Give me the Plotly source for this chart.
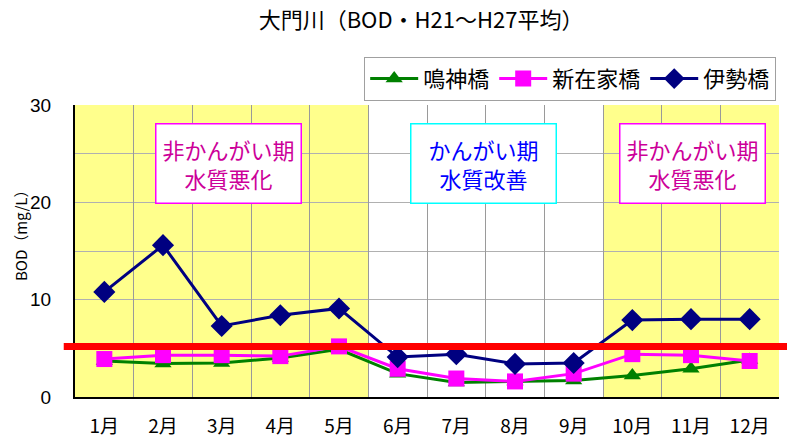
import plotly.graph_objects as go

months = ["1月", "2月", "3月", "4月", "5月", "6月", "7月", "8月", "9月", "10月", "11月", "12月"]
narukami = [3.7, 3.45, 3.5, 4.0, 4.9, 2.4, 1.5, 1.6, 1.7, 2.2, 2.9, 3.8]
shinzaike = [3.9, 4.3, 4.3, 4.2, 5.2, 2.9, 1.9, 1.6, 2.4, 4.4, 4.3, 3.7]
ise = [10.8, 15.6, 7.3, 8.4, 9.1, 4.1, 4.4, 3.4, 3.5, 7.9, 8.0, 8.0]
y_ticks = [0, 10, 20, 30]
standard = 5.2
non_irrigation_1 = (0, 4)   # month indices of 1月..5月
non_irrigation_2 = (9, 11)  # 10月..12月

FONT = "Noto Sans CJK JP"
x = list(range(len(months)))

fig = go.Figure()

for xs in (non_irrigation_1, non_irrigation_2):
    fig.add_shape(type="rect", xref="x", yref="paper", x0=xs[0] - 0.5, x1=xs[1] + 0.5,
                  y0=0, y1=1, fillcolor="#FFFF8C", line_width=0, layer="below")

fig.add_trace(go.Scatter(x=x, y=narukami, name="鳴神橋", mode="lines+markers",
                         line=dict(color="#008000", width=3),
                         marker=dict(symbol="triangle-up", size=15, color="#008000")))
fig.add_trace(go.Scatter(x=x, y=shinzaike, name="新在家橋", mode="lines+markers",
                         line=dict(color="#FF00FF", width=3),
                         marker=dict(symbol="square", size=16, color="#FF00FF")))
fig.add_trace(go.Scatter(x=x, y=ise, name="伊勢橋", mode="lines+markers",
                         line=dict(color="#000080", width=3),
                         marker=dict(symbol="diamond", size=17, color="#000080")))

# vertical grid at category boundaries via overlay axis
fig.add_trace(go.Scatter(x=[-0.5], y=[0], xaxis="x2", showlegend=False, hoverinfo="skip",
                         mode="markers", marker=dict(opacity=0)))

fig.add_shape(type="line", xref="paper", yref="y", x0=-0.016, x1=1.02, y0=standard, y1=standard,
              line=dict(color="#FF0000", width=7))

def box(xc, text, fcolor, bcolor):
    fig.add_annotation(x=xc, y=24, xref="x", yref="y", text=text, showarrow=False,
                       font=dict(family=FONT, size=22, color=fcolor), align="center",
                       bgcolor="white", bordercolor=bcolor, borderwidth=1.5, borderpad=6,
                       width=132, height=66)

box(2.11, "非かんがい期<br>水質悪化", "#CC0099", "#FF00FF")
box(6.46, "かんがい期<br>水質改善", "#0000FF", "#00FFFF")
box(10.02, "非かんがい期<br>水質悪化", "#CC0099", "#FF00FF")

# y axis title (placed like the reference, above the axis centre)
fig.add_annotation(xref="paper", yref="paper", x=(20 - 75) / 704, y=(397 - 232) / 292,
                   text="BOD（mg/L）", showarrow=False, textangle=-90,
                   font=dict(size=15, family=FONT), xanchor="center", yanchor="middle")

fig.update_layout(
    width=787, height=441,
    margin=dict(l=75, r=8, t=105, b=44),
    paper_bgcolor="white", plot_bgcolor="white",
    font=dict(family=FONT, color="black"),
    title=dict(text="大門川（BOD・H21～H27平均）", x=0.535, xanchor="center", y=0.955, yanchor="middle",
               font=dict(size=22, family=FONT)),
    legend=dict(orientation="h", x=0.996, xanchor="right", y=1.165, yanchor="top",
                bordercolor="#A0A0A0", borderwidth=1, font=dict(size=22, family=FONT),
                itemwidth=48, bgcolor="white", tracegroupgap=0),
    xaxis=dict(range=[-0.5, 11.5], tickvals=x, ticktext=months, showgrid=False,
               showline=True, linecolor="black", linewidth=2, ticks="", automargin=False,
               tickfont=dict(size=19, family=FONT), ticklabelstandoff=11, zeroline=False),
    xaxis2=dict(range=[-0.5, 11.5], overlaying="x", tickvals=[i + 0.5 for i in x[:-1]],
                showticklabels=False, showgrid=True, gridcolor="#9A9A9A", gridwidth=1,
                ticks="", showline=False, zeroline=False, automargin=False),
    yaxis=dict(range=[0, 30], tickvals=y_ticks, showgrid=True, gridcolor="#B0B0B0", gridwidth=1,
               minor=dict(dtick=5, showgrid=True, gridcolor="#B0B0B0"), automargin=False,
               showline=True, linecolor="black", linewidth=2, ticks="", zeroline=False,
               tickfont=dict(size=19, family="Liberation Sans"), ticklabelstandoff=18),
)

fig.write_html("out.html", config={"displayModeBar": False},
               post_script="document.body.style.margin='0';")
